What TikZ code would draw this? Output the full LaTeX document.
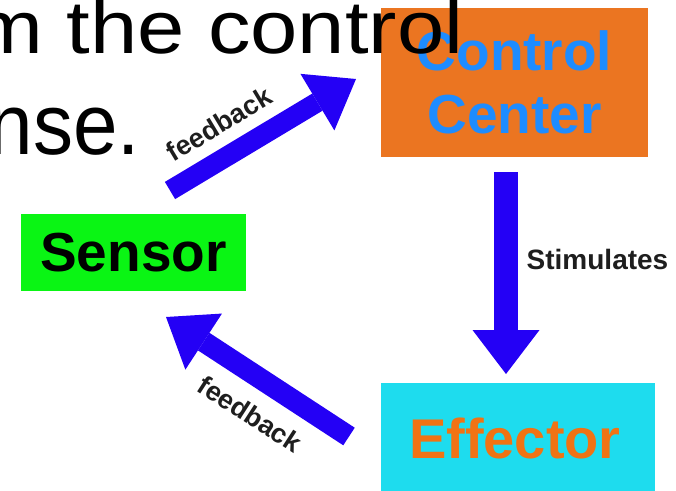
\documentclass[tikz,border=0pt]{standalone}
\usepackage{fontspec}
\setmainfont{Liberation Sans}
\usetikzlibrary{arrows.meta}
\definecolor{ccorange}{RGB}{235,117,33}
\definecolor{ccblue}{RGB}{30,140,255}
\definecolor{sgreen}{RGB}{10,245,20}
\definecolor{ecyan}{RGB}{30,220,238}
\definecolor{etext}{RGB}{240,115,20}
\definecolor{arrowblue}{RGB}{36,0,245}
\definecolor{labelgray}{RGB}{30,30,30}
\tikzset{
  box/.style={rectangle, inner sep=0pt, draw=none, font=\bfseries\fontsize{55}{63}\selectfont, align=center},
  blockarrow/.style={draw=arrowblue, line cap=butt},
  lbl/.style={inner sep=0pt, text=labelgray, font=\bfseries\fontsize{27}{27}\selectfont},
  bigtext/.style={inner sep=0pt, text=black, anchor=base east}
}
\begin{document}
\begin{tikzpicture}[x=1pt,y=-1pt]
\useasboundingbox (0,0) rectangle (676,490);
\clip (0,0) rectangle (676,490);
% boxes
\node[box, fill=ccorange, text=ccblue, minimum width=267pt, minimum height=149pt] (cc) at (514.5,82.5) {Control\\Center};
\node[box, fill=sgreen, text=black, minimum width=225pt, minimum height=77pt] (sensor) at (133.5,252.5) {Sensor};
\node[box, fill=ecyan, text=etext, minimum width=274pt, minimum height=120pt] (effector) at (518,443) {};
\node[inner sep=0pt, text=etext, font=\bfseries\fontsize{56}{56}\selectfont, anchor=base] (efftext) at (515,458) {Effector};
% arrow end points
\coordinate (stimA) at (506,172);
\coordinate (stimB) at (506,374);
\coordinate (fbupA) at (170,190.5);
\coordinate (fbupB) at (356,79);
\coordinate (fbdnA) at (349,436.5);
\coordinate (fbdnB) at (166,317);
% arrows
\draw[blockarrow, line width=24pt, -{Triangle[length=44pt,width=67pt,line width=0pt]}] (stimA) -- (stimB);
\draw[blockarrow, line width=20pt, -{Triangle[length=45pt,width=66pt,line width=0pt]}] (fbupA) -- (fbupB);
\draw[blockarrow, line width=21pt, -{Triangle[length=45pt,width=67pt,line width=0pt]}] (fbdnA) -- (fbdnB);
% labels
\node[lbl, font=\bfseries\fontsize{28}{28}\selectfont, anchor=base west] (stimlbl) at (526.5,269) {Stimulates};
\node[lbl, rotate=31] (fbuplbl) at (219,124) {feedback};
\node[lbl, rotate=-33] (fbdnlbl) at (250,414) {feedback};
% background slide text (on top)
\node[bigtext, font=\fontsize{85}{85}\selectfont, yscale=0.88] (line1) at (463.6,53) {m the control};
\node[bigtext, font=\fontsize{80}{80}\selectfont, yscale=1.08] (line2) at (140.3,154) {nse.};
\end{tikzpicture}
\end{document}
